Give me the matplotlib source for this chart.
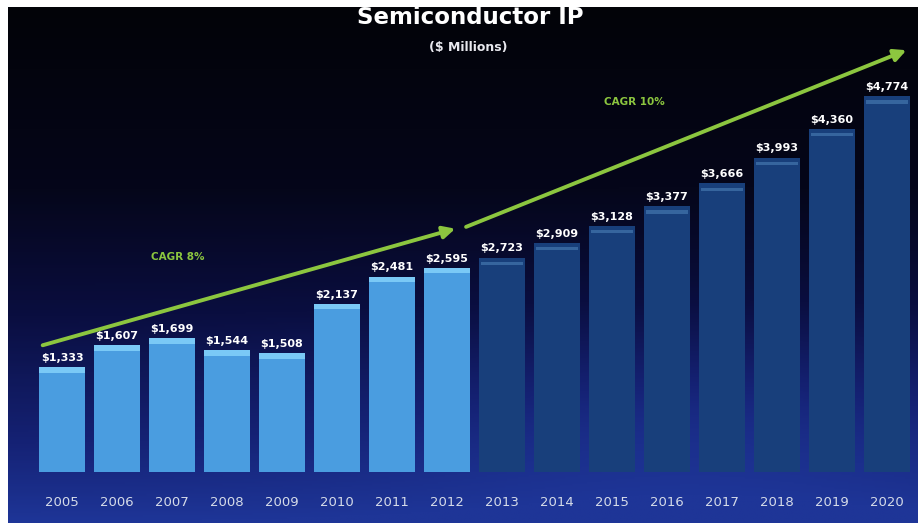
"""
Semiconductor IP market size bar chart, 2005-2020 ($ millions).
"""

import numpy as np
import matplotlib
matplotlib.use("Agg")
import matplotlib.pyplot as plt
from matplotlib.colors import LinearSegmentedColormap

# Market data
years = [2005, 2006, 2007, 2008, 2009, 2010, 2011, 2012,
         2013, 2014, 2015, 2016, 2017, 2018, 2019, 2020]
revenue = [1333, 1607, 1699, 1544, 1508, 2137, 2481, 2595,
           2723, 2909, 3128, 3377, 3666, 3993, 4360, 4774]
last_actual = 2012  # later years are forecast
cagr_labels = ["CAGR 8%", "CAGR 10%"]

W, H = 918, 523
fig = plt.figure(figsize=(W / 100, H / 100), dpi=100, facecolor="white")

# Dark blue backdrop with a vertical gradient
bg = fig.add_axes([8 / W, 0, 1 - 8 / W, 1 - 7 / H])
bg.set_axis_off()
cmap = LinearSegmentedColormap.from_list(
    "bg", [(0.0, "#1e3597"), (0.15, "#152275"), (0.4, "#0a0e40"),
           (0.65, "#05061a"), (1.0, "#020308")])
yy, xx = np.mgrid[0:1:300j, 0:1:500j]
grad = yy.copy()
# soft lighter swoosh toward the lower right
glow = np.exp(-(((xx - 0.75) / 0.35) ** 2 + ((yy - 0.22) / 0.18) ** 2))
grad = np.clip(grad - 0.12 * glow, 0, 1)
bg.imshow(grad, cmap=cmap, aspect="auto", origin="lower", extent=[0, 1, 0, 1])
bg.set_xlim(0, 1)
bg.set_ylim(0, 1)

# Main chart axes
ax = fig.add_axes([34.5 / W, 1 - 472 / H, 880 / W, 432 / H])
ax.set_axis_off()
ax.patch.set_alpha(0)
x = np.arange(len(years))
ax.set_xlim(-0.5, len(years) - 0.5)
ax.set_ylim(0, 432 * 12.7)

actual = np.array(years) <= last_actual
vals = np.array(revenue)
body = np.where(actual, "#4a9de0", "#183f7b")
cap = np.where(actual, "#80cff9", "#3a6aa3")
width = 0.85
ax.bar(x, vals, width=width, color=body, edgecolor="none", zorder=2)
# highlight band: at the very top of actual bars, just below it on forecasts
cap_bottom = np.where(actual, vals - 70, vals - 95)
cap_height = np.where(actual, 70, 40)
ax.bar(x, cap_height, bottom=cap_bottom, width=np.where(actual, width, width * 0.88),
       color=cap, edgecolor="none", zorder=3, alpha=0.9)

for xi, v in zip(x, revenue):
    ax.annotate(f"${v:,}", (xi, v), xytext=(0, 3), textcoords="offset points",
                ha="center", va="bottom", color="white", fontsize=8,
                fontweight="bold", zorder=5)

for xi, yr in zip(x, years):
    ax.text(xi, -300, str(yr), ha="center", va="top", color="#d5dbe8",
            fontsize=9.5, zorder=5)

# CAGR trend arrows
green = "#8cc63f"
ax.annotate("", xy=(7.2, 3100), xytext=(-0.4, 1600),
            arrowprops=dict(arrowstyle="-|>", color=green, lw=2.8,
                            mutation_scale=18), zorder=4)
ax.annotate("", xy=(15.4, 5370), xytext=(7.3, 3100),
            arrowprops=dict(arrowstyle="-|>", color=green, lw=2.8,
                            mutation_scale=18), zorder=4)
ax.text(2.1, 2730, cagr_labels[0], color=green, fontsize=7.5,
        fontweight="bold", ha="center", va="center")
ax.text(10.4, 4700, cagr_labels[1], color=green, fontsize=7.5,
        fontweight="bold", ha="center", va="center")

fig.text(470 / W, 1 - 18 / H, "Semiconductor IP", color="white",
         fontsize=16.5, fontweight="bold", ha="center", va="center")
fig.text(468 / W, 1 - 47 / H, "($ Millions)", color="#e8e8ee",
         fontsize=9, fontweight="bold", ha="center", va="center")

fig.savefig("out.png", dpi=100, facecolor="white")
